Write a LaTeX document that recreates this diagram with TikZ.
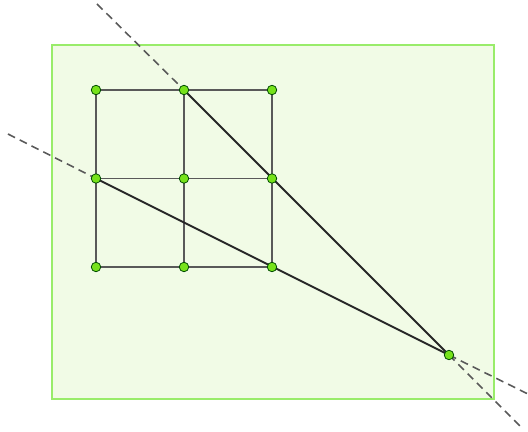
\documentclass[tikz,border=0pt]{standalone}
\definecolor{boxfill}{HTML}{F1FBE6}
\definecolor{boxline}{HTML}{99EC6A}
\definecolor{ptfill}{HTML}{76E21A}
\begin{document}
\begin{tikzpicture}[x=0.02cm,y=-0.02cm,
  gridline/.style={draw=black!65,line width=1pt},
  rayline/.style={draw=black!85,line width=1.1pt},
  extline/.style={draw=black!65,line width=0.9pt,dash pattern=on 4.5pt off 3pt},
  pt/.style={circle,draw=green!30!black,fill=ptfill,line width=0.45pt,inner sep=0pt,minimum size=0.19cm}]
\useasboundingbox (0,0) rectangle (528,432);
% Frame
\draw[boxline,fill=boxfill,line width=1.1pt] (52,45) rectangle (494,399);

% Grid points and the far point
\foreach \i in {0,1,2} {
    \foreach \j in {0,1,2} {
        \coordinate (p-\i-\j) at (96+88*\i,90+88.5*\j);
    }
}
\coordinate (q) at (449,355);
% Free ends of the dashed lines
\coordinate (a1) at (97,4);
\coordinate (a2) at (521,427);
\coordinate (b1) at (8,134);
\coordinate (b2) at (528,394);

% Grid lines
\foreach \k in {0,1,2} {
    \draw[gridline] (p-0-\k) -- (p-2-\k);
    \draw[gridline] (p-\k-0) -- (p-\k-2);
}

% Lines through the far point
\draw[extline] (a1) -- (p-1-0);
\draw[extline] (q) -- (a2);
\draw[extline] (b1) -- (p-0-1);
\draw[extline] (q) -- (b2);
\draw[rayline] (p-1-0) -- (q);
\draw[rayline] (p-0-1) -- (q);

% Points
\foreach \i in {0,1,2} {
    \foreach \j in {0,1,2} {
        \node[pt] at (p-\i-\j) {};
    }
}
\node[pt] at (q) {};
\end{tikzpicture}
\end{document}
